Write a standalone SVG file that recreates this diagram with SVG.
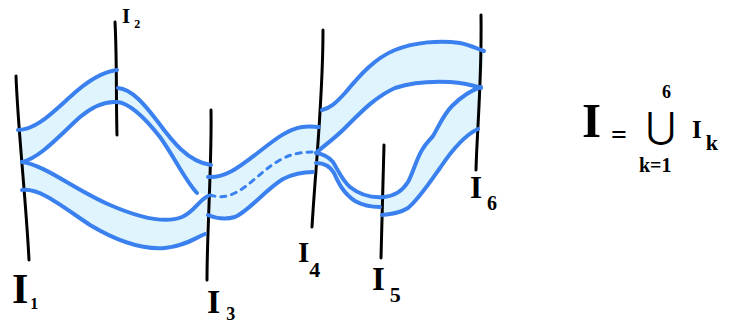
<svg xmlns="http://www.w3.org/2000/svg" width="731" height="327" viewBox="0 0 731 327">
<style>
.fill{fill:#dff4fc;stroke:none}
.edge{fill:none;stroke:#3a80ee;stroke-width:4;stroke-linecap:round;stroke-linejoin:round}
.dash{fill:none;stroke:#3a80ee;stroke-width:3;stroke-linecap:round;stroke-dasharray:5 6}
.axis{fill:none;stroke:#000;stroke-width:3;stroke-linecap:round}
.lbl{font-family:"Liberation Serif","DejaVu Serif",serif;font-weight:bold;fill:#000}
</style>
<rect width="731" height="327" fill="#fff"/>
<g id="band-fills">
<path class="fill" d="M18,130 C35,130 50,115 70,97 C85,83 100,72 117,70 L117,102 C105,101 93,106 80,117 C60,135 40,158 22,162 Z"/>
<path class="fill" d="M117,88 C132,89 145,105 158,122 C172,141 188,162 211,165 L208,195 L197,193 C185,180 175,158 160,137 C145,118 130,103 117,102 Z"/>
<path class="fill" d="M22,162 C45,165 75,190 110,205 C140,218 165,224 182,217 C194,212 199,200 208,196 L205,234 C195,238 185,246 165,248 C140,250 115,240 90,225 C60,205 40,188 22,190 Z"/>
<path class="fill" d="M208,177 C225,178 238,168 255,155 C272,142 285,130 302,127 C310,126 315,127 319,127 L313,172 C305,172 295,173 283,179 C265,190 250,210 235,217 C225,220 215,218 208,215 Z"/>
<path class="fill" d="M322,110 C330,108 335,104 345,93 C360,75 375,58 395,50 C415,42 440,40 460,43 C470,45 478,49 484,51 L481,88 C475,86 465,83 450,82 C430,81 410,83 395,88 C375,97 360,113 345,128 C335,138 325,145 316,153 Z"/>
<path class="fill" d="M316,153 C323,154 328,156 333,162 C338,170 342,180 350,187 C360,195 372,198 384,197 L382,207 C372,207 362,205 355,201 C343,193 338,182 334,173 C330,166 324,163 316,163 Z"/>
<path class="fill" d="M384,197 C395,196 403,190 408,182 C413,173 416,160 422,150 C426,143 430,140 433,136 C438,128 443,115 452,106 C462,96 472,90 481,87 L478,129 C465,135 452,150 440,168 C428,185 418,200 408,208 C400,213 392,214 382,215 Z"/>
</g>
<g id="nodes">
<g id="I1"><path class="axis" d="M16,76 C18,130 26,200 29,260"/><text class="lbl" x="12" y="303" font-size="42">I<tspan dx="2" dy="6" font-size="16">1</tspan></text></g>
<g id="I2"><path class="axis" d="M115,22 C117,60 116,100 117,135"/><text class="lbl" x="122" y="23" font-size="21">I<tspan dx="4" dy="5" font-size="12">2</tspan></text></g>
<g id="I3"><path class="axis" d="M211,110 C212,160 207,230 207,280"/><text class="lbl" x="207" y="313" font-size="34">I<tspan dx="6" dy="7" font-size="18">3</tspan></text></g>
<g id="I4"><path class="axis" d="M323,30 C323,100 316,160 312,227"/><text class="lbl" x="298" y="262" font-size="29">I<tspan dx="0" dy="15" font-size="22">4</tspan></text></g>
<g id="I5"><path class="axis" d="M384,145 C383,180 382,220 381,258"/><text class="lbl" x="372" y="290" font-size="33">I<tspan dx="5" dy="12" font-size="22">5</tspan></text></g>
<g id="I6"><path class="axis" d="M481,15 C482,80 477,130 476,170"/><text class="lbl" x="470" y="198" font-size="31">I<tspan dx="5" dy="12" font-size="20">6</tspan></text></g>
</g>
<g id="connectors">
<path class="edge" d="M18,130 C35,130 50,115 70,97 C85,83 100,72 117,70"/>
<path class="edge" d="M22,162 C40,158 60,135 80,117 C93,106 105,101 117,102 C130,103 145,118 160,137 C175,158 185,180 197,193"/>
<path class="edge" d="M118,88 C132,89 145,105 158,122 C172,141 188,162 211,165"/>
<path class="edge" d="M22,162 C45,165 75,190 110,205 C140,218 165,224 182,217 C194,212 199,200 208,196"/>
<path class="edge" d="M22,190 C40,188 60,205 90,225 C115,240 140,250 165,248 C185,246 195,238 205,234"/>
<path class="edge" d="M208,177 C225,178 238,168 255,155 C272,142 285,130 302,127 C310,126 315,127 319,127"/>
<path class="edge" d="M208,215 C215,218 225,220 235,217 C250,210 265,190 283,179 C295,173 305,172 313,172"/>
<path class="dash" d="M210,195 C217,197 225,198 235,193 C250,186 262,170 280,160 C292,153 303,152 314,152"/>
<path class="edge" d="M322,110 C330,108 335,104 345,93 C360,75 375,58 395,50 C415,42 440,40 460,43 C470,45 478,49 484,51"/>
<path class="edge" d="M316,153 C325,145 335,138 345,128 C360,113 375,97 395,88 C410,83 430,81 450,82 C465,83 475,86 481,88"/>
<path class="edge" d="M316,153 C323,154 328,156 333,162 C338,170 342,180 350,187 C360,195 372,198 384,197"/>
<path class="edge" d="M316,163 C324,163 330,166 334,173 C338,182 343,193 355,201 C362,205 372,207 380,207"/>
<path class="edge" d="M384,197 C395,196 403,190 408,182 C413,173 416,160 422,150 C426,143 430,140 433,136 C438,128 443,115 452,106 C462,96 472,90 481,87"/>
<path class="edge" d="M382,215 C392,214 400,213 408,208 C418,200 428,185 440,168 C452,150 465,135 478,129"/>
</g>
<g id="formula">
<text class="lbl" x="582" y="137" font-size="49">I</text>
<text class="lbl" x="611" y="144" font-size="28">=</text>
<text x="661" y="138" font-size="36" text-anchor="middle" style="font-family:'DejaVu Sans',sans-serif;font-weight:normal;fill:#000">⋃</text>
<text class="lbl" x="662" y="98" font-size="18">6</text>
<text class="lbl" x="639" y="172" font-size="20">k=1</text>
<text class="lbl" x="692" y="138" font-size="25">I<tspan dx="4" dy="12" font-size="22">k</tspan></text>
</g>
</svg>
